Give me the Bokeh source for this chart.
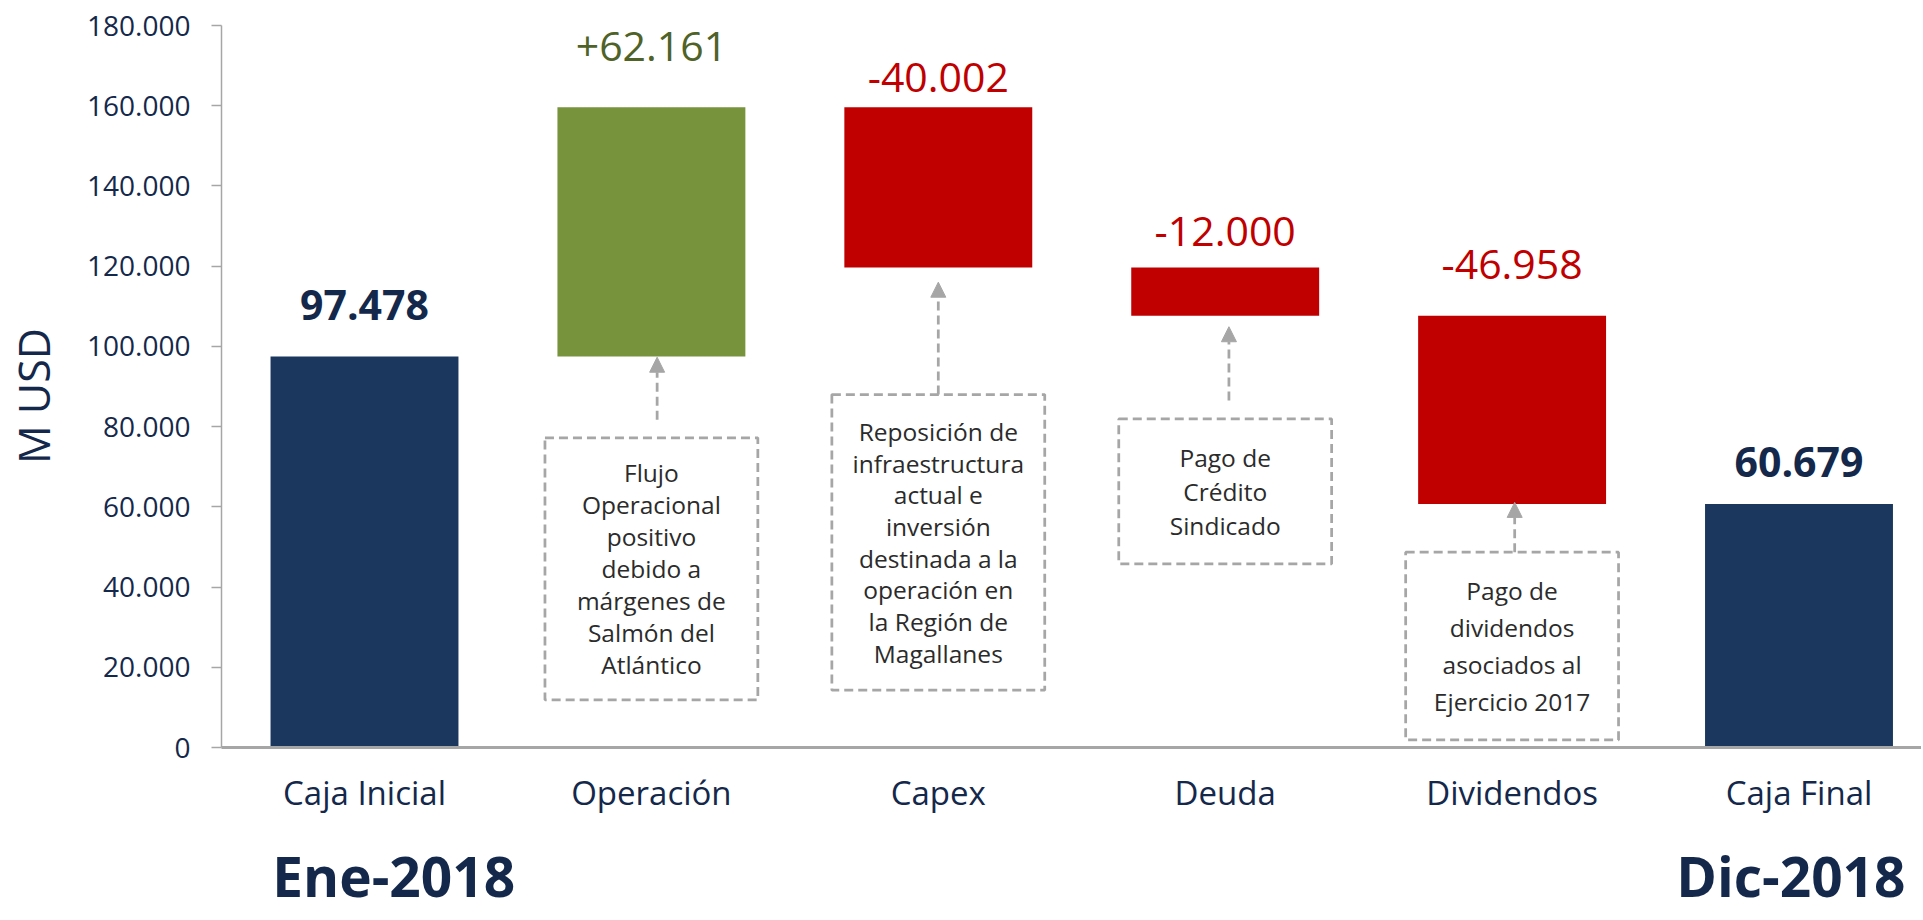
import math
from bokeh.plotting import figure
from bokeh.models import ColumnDataSource, Range1d, FixedTicker, Arrow, NormalHead
from bokeh.core.properties import value
from bokeh.embed import file_html
from bokeh.resources import INLINE

# ---------------- data ----------------
categories = ["Caja Inicial", "Operación", "Capex", "Deuda", "Dividendos", "Caja Final"]
caja_inicial = 97478
variaciones = [62161, -40002, -12000, -46958]
caja_final = 60679
y_ticks = [0, 20000, 40000, 60000, 80000, 100000, 120000, 140000, 160000, 180000]
periodo_inicio = "Ene-2018"
periodo_fin = "Dic-2018"
y_label = "M USD"
notas = [
    ["Flujo", "Operacional", "positivo", "debido a", "márgenes de", "Salmón del", "Atlántico"],
    ["Reposición de", "infraestructura", "actual e", "inversión", "destinada a la",
     "operación en", "la Región de", "Magallanes"],
    ["Pago de", "Crédito", "Sindicado"],
    ["Pago de", "dividendos", "asociados al", "Ejercicio 2017"],
]

# ---------------- styles / layout ----------------
W, H = 1921, 918
AXIS_X_PX = 221          # where the value axis sits
ZERO_Y_PX = 747          # where the category axis sits
X0_PX, UNIT_PX = 364, 286.9
PX_PER_Y = (747 - 25) / 180000
PERIOD_Y_PX = 875


def px2x(px):
    return (px - X0_PX) / UNIT_PX


def px2y(py):
    return (ZERO_Y_PX - py) / PX_PER_Y


NAVY = "#1b375e"
NAVY_TXT = "#14284b"
GREEN = "#77933c"
GREEN_TXT = "#4f6228"
RED = "#c00000"
GRAY = "#a6a6a6"
NOTE_TXT = "#2b2b2b"
FONT = "Open Sans"
BAR_W = 0.655
label_gap = [52, 61, 30, 36, 51, 42]          # px from bar top to label centre
box_w = 0.742
box_top = [77200, 88000, 81900, 48700]
box_bottom = [11900, 14300, 45800, 1900]
line_h = [32, 31.7, 34, 37]
arrow_y0 = [81700, 88000, 86500, 48700]
arrow_y1 = [97300, 116000, 104900, 61100]
arrow_dx = [0.02, 0.0, 0.013, 0.009]


def fmt(v):
    return f"{abs(v):,}".replace(",", ".")


# waterfall geometry from the data
xs = list(range(len(categories)))
bottoms, tops, colors = [0], [caja_inicial], [NAVY]
texts, tcolors, bold = [fmt(caja_inicial)], [NAVY_TXT], [True]
run = caja_inicial
for d in variaciones:
    new = run + d
    bottoms.append(min(run, new))
    tops.append(max(run, new))
    colors.append(GREEN if d > 0 else RED)
    texts.append(("+" if d > 0 else "-") + fmt(d))
    tcolors.append(GREEN_TXT if d > 0 else RED)
    bold.append(False)
    run = new
bottoms.append(0)
tops.append(caja_final)
colors.append(NAVY)
texts.append(fmt(caja_final))
tcolors.append(NAVY_TXT)
bold.append(True)

p = figure(width=W, height=H,
           x_range=Range1d(px2x(0), px2x(W)), y_range=Range1d(px2y(H), px2y(0)),
           output_backend="svg", toolbar_location=None,
           min_border_left=0, min_border_right=0, min_border_top=0, min_border_bottom=0)
p.outline_line_color = None
p.grid.visible = False
p.background_fill_color = "white"

bars = ColumnDataSource(dict(x=xs, bottom=bottoms, top=tops, color=colors))
p.vbar(x="x", bottom="bottom", top="top", width=BAR_W, fill_color="color",
       line_color=None, source=bars)

# value labels
for want_bold in (True, False):
    idx = [i for i in xs if bold[i] == want_bold]
    src = ColumnDataSource(dict(x=[xs[i] for i in idx], y=[tops[i] for i in idx],
                                t=[texts[i] for i in idx], c=[tcolors[i] for i in idx],
                                off=[-label_gap[i] for i in idx]))
    p.text(x="x", y="y", text="t", text_color="c", y_offset="off",
           text_align="center", text_baseline="middle",
           text_font=value(FONT), text_font_size="41px",
           text_font_style="bold" if want_bold else "normal", source=src)

# annotation boxes
box_x = [xs[i + 1] for i in range(len(notas))]
p.quad(left=[x - box_w / 2 for x in box_x], right=[x + box_w / 2 for x in box_x],
       top=box_top, bottom=box_bottom, fill_color="white", line_color=GRAY,
       line_dash="9 5", line_width=2.75)

lx, ly, lt, lo = [], [], [], []
for k, lines in enumerate(notas):
    cy = (box_top[k] + box_bottom[k]) / 2
    n = len(lines)
    for j, s in enumerate(lines):
        lx.append(box_x[k])
        ly.append(cy)
        lt.append(s)
        lo.append((j - (n - 1) / 2) * line_h[k])
p.text(x="x", y="y", text="t", y_offset="o",
       source=ColumnDataSource(dict(x=lx, y=ly, t=lt, o=lo)),
       text_align="center", text_baseline="middle", text_color=NOTE_TXT,
       text_font=value(FONT), text_font_size="24.5px")

arrows = ColumnDataSource(dict(x0=[x + d for x, d in zip(box_x, arrow_dx)],
                               x1=[x + d for x, d in zip(box_x, arrow_dx)],
                               y0=arrow_y0, y1=arrow_y1))
p.add_layout(Arrow(x_start="x0", y_start="y0", x_end="x1", y_end="y1", source=arrows,
                   line_color=GRAY, line_width=2.75, line_dash="9 5",
                   end=NormalHead(size=15, fill_color=GRAY, line_color=GRAY, line_width=1)))

# period labels
p.text(x=[px2x(271.7), px2x(1905)], y=[px2y(PERIOD_Y_PX)] * 2,
       text=[periodo_inicio, periodo_fin],
       text_align=["left", "right"], text_baseline="middle",
       text_font=value(FONT), text_font_size="55px", text_font_style="bold",
       text_color=NAVY_TXT)

# value-axis title
p.text(x=[px2x(33)], y=[px2y(395.5)], text=[y_label], angle=math.pi / 2,
       text_align="center", text_baseline="middle", text_font=value(FONT),
       text_font_size="43px", text_color=NAVY_TXT)

# axes (fixed inside the full-canvas frame)
p.yaxis.fixed_location = px2x(AXIS_X_PX)
p.yaxis.bounds = (0, 180000)
p.yaxis.ticker = FixedTicker(ticks=y_ticks)
p.yaxis.major_label_overrides = {t: fmt(t) for t in y_ticks}
p.yaxis.axis_line_color = GRAY
p.yaxis.axis_line_width = 1.5
p.yaxis.major_tick_line_color = GRAY
p.yaxis.major_tick_line_width = 1.5
p.yaxis.major_tick_out = 10
p.yaxis.major_tick_in = 0
p.yaxis.minor_tick_line_color = None
p.yaxis.major_label_standoff = 21
p.yaxis.major_label_text_font = FONT
p.yaxis.major_label_text_font_size = "28px"
p.yaxis.major_label_text_color = NAVY_TXT

p.xaxis.fixed_location = 0
p.xaxis.bounds = (px2x(AXIS_X_PX), px2x(W))
p.xaxis.ticker = FixedTicker(ticks=xs)
p.xaxis.major_label_overrides = {x: c for x, c in zip(xs, categories)}
p.xaxis.axis_line_color = GRAY
p.xaxis.axis_line_width = 3
p.xaxis.major_tick_line_color = None
p.xaxis.major_tick_out = 0
p.xaxis.major_tick_in = 0
p.xaxis.minor_tick_line_color = None
p.xaxis.major_label_standoff = 22
p.xaxis.major_label_text_font = FONT
p.xaxis.major_label_text_font_size = "33px"
p.xaxis.major_label_text_color = NAVY_TXT

open("out.html", "w").write(file_html(p, INLINE))
